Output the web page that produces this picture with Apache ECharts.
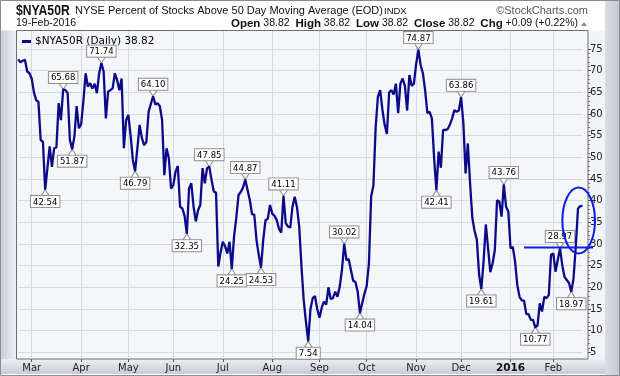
<!DOCTYPE html>
<html>
<head>
<meta charset="utf-8">
<script src="https://cdn.jsdelivr.net/npm/echarts@6/dist/echarts.min.js"></script>
<style>
html,body{margin:0;padding:0;background:#fff;}
#c{width:620px;height:376px;}
</style>
</head>
<body>
<div id="c"></div>
<script>
// ---------------- DATA ----------------
var startDate = '2015-02-20';
var endDate = '2016-02-19';
var holidays = ['2015-04-03','2015-05-25','2015-07-03','2015-09-07','2015-11-26','2015-12-25','2016-01-01','2016-01-18','2016-02-15'];
var monthNames = ['Jan','Feb','Mar','Apr','May','Jun','Jul','Aug','Sep','Oct','Nov','Dec'];

var pctAbove50 = [
72.6,71.9,72.3,72.5,69.8,69.4,68.2,65.0,63.2,62.8,
54.0,53.6,42.54,47.5,52.5,47.8,52.1,52.3,62.5,58.6,
65.68,65.5,64.8,54.0,51.87,54.8,61.8,56.7,57.6,63.0,
69.4,66.3,67.1,65.9,67.0,64.8,69.4,71.74,69.8,59.0,
65.2,65.5,65.9,69.4,67.8,65.5,68.2,52.1,58.6,59.8,
55.0,49.4,46.79,52.0,57.5,54.5,52.8,53.5,60.5,62.3,
64.10,62.2,62.5,61.8,58.6,45.9,52.1,49.8,42.8,43.6,
46.7,48.0,38.6,38.2,36.5,32.35,42.8,44.0,38.6,35.2,
37.8,39.0,47.5,44.0,47.5,47.85,44.8,42.1,41.8,24.8,
28.0,30.5,29.5,27.8,30.5,24.25,31.7,36.0,41.3,42.0,
43.0,44.87,42.5,40.2,36.9,36.8,30.9,27.5,24.53,31.0,
35.5,35.8,39.0,37.0,36.5,35.5,33.5,32.6,41.11,34.8,
34.0,33.8,38.6,40.9,38.5,34.0,24.8,17.0,12.0,7.54,
15.0,17.5,18.0,15.0,13.0,15.3,16.7,16.0,20.0,17.3,
17.5,19.0,17.8,20.1,24.0,30.02,26.3,26.5,24.0,21.5,
21.2,19.0,14.04,16.3,18.5,20.3,25.5,41.0,43.5,57.0,
64.0,65.5,61.0,57.5,55.4,65.0,65.5,64.5,67.0,60.2,
67.0,68.2,66.5,60.8,69.0,66.5,67.0,71.5,74.87,71.3,
69.4,65.5,60.2,60.5,59.0,49.8,42.41,51.3,47.6,56.3,
56.3,56.5,57.5,59.0,60.9,60.5,60.8,63.86,58.0,46.3,
53.2,44.0,36.0,33.0,31.0,23.0,19.61,26.0,34.5,29.0,
23.5,25.5,28.6,40.1,39.8,36.3,43.76,38.6,37.5,29.0,
29.3,26.0,20.5,17.8,17.0,16.9,13.8,13.8,12.5,12.5,
10.77,11.2,16.3,14.4,17.8,17.5,18.2,27.5,27.8,23.6,
26.3,28.97,25.1,22.4,21.7,21.0,18.97,22.0,29.4,38.2,
38.73,38.82
];

// indices of points carrying a value callout
var calloutIdx = [12,20,24,37,52,60,75,85,95,101,108,118,129,145,152,178,186,197,206,216,230,241,246];

var yTicks = {min:5, max:75, step:5};

// annotation drawn by the analyst
var annotLevel = 29.2;          // horizontal line level
var annotLineFrom = 225;        // start index of that line
var annotEllipse = {idx:249.3, value:35.4};

// ---------------- build categories ----------------
function fmt(d){var m=d.getUTCMonth()+1,dd=d.getUTCDate();return d.getUTCFullYear()+'-'+(m<10?'0':'')+m+'-'+(dd<10?'0':'')+dd;}
var categories=[];
(function(){
  var d=new Date(startDate+'T00:00:00Z'), e=new Date(endDate+'T00:00:00Z');
  while(d<=e){
    var wd=d.getUTCDay(), s=fmt(d);
    if(wd!==0&&wd!==6&&holidays.indexOf(s)<0) categories.push(s);
    d=new Date(d.getTime()+86400000);
  }
})();
var monthStart={};
for(var i=1;i<categories.length;i++){
  if(categories[i].slice(5,7)!==categories[i-1].slice(5,7)){
    var mo=+categories[i].slice(5,7);
    monthStart[i]= mo===1 ? categories[i].slice(0,4) : monthNames[mo-1];
  }
}

var N = pctAbove50.length;
var last = pctAbove50[N-1];
var seriesName = '$NYA50R (Daily) ' + last.toFixed(2);

var navy = '#0b0b8a';
var font = 'DejaVu Sans';

// callouts
var mpData = calloutIdx.map(function(i){
  var v=pctAbove50[i], peak=true;
  for(var k=i-2;k<=i+2;k++){ if(k!==i && k>=0 && k<N && pctAbove50[k]>v) peak=false; }
  return {
    coord:[i, v], value:v,
    symbol: peak ? 'path://M0,0 L10,0 L5,8 Z' : 'path://M5,0 L10,8 L0,8 Z',
    symbolSize:[9,7],
    symbolOffset:[0, peak ? -3.5 : 3.5],
    label:{position: peak ? 'top' : 'bottom', distance:-1}
  };
});

var chart = echarts.init(document.getElementById('c'), null, {renderer:'canvas'});

var GL = 18.2, GR = 620-582.5;
var option = {
  animation:false,
  backgroundColor:'transparent',
  textStyle:{fontFamily:font},
  legend:{
    show:true, left:17, top:31, itemWidth:9, itemHeight:3, icon:'rect', itemGap:4,
    data:[seriesName],
    textStyle:{fontFamily:font, fontSize:10.5, color:'#000', padding:[0,0,0,-1]},
    itemStyle:{color:navy}
  },
  grid:[
    {left:GL, right:GR, top:49, bottom:376-352.3, containLabel:false},
    {left:GL, right:GR, top:31, bottom:17, containLabel:false}
  ],
  xAxis:[
    {gridIndex:0, type:'category', data:categories.concat(), boundaryGap:false,
     axisLine:{show:false}, axisTick:{show:false}, axisLabel:{show:false}, splitLine:{show:false}},
    {gridIndex:1, type:'category', data:categories.concat(), boundaryGap:false,
     axisLine:{show:false},
     axisTick:{show:true, length:3, inside:false, interval:function(i){return monthStart[i]!==undefined;}, lineStyle:{color:'#555'}},
     axisLabel:{show:true, interval:function(i){return monthStart[i]!==undefined;}, margin:4,
       formatter:function(v,i){var t=monthStart[i]; if(!t) return ''; return /^\d{4}$/.test(t)?'{b|'+t+'}':t;},
       color:'#222', fontFamily:font, fontSize:10,
       rich:{b:{fontWeight:'bold', fontFamily:font, fontSize:10.5, color:'#111'}}},
     splitLine:{show:true, interval:function(i){return monthStart[i]!==undefined;}, lineStyle:{color:'#d6d9e0', width:1}}}
  ],
  yAxis:[
    {gridIndex:0, type:'value', position:'right', offset:588-582.5, min:yTicks.min, max:yTicks.max, interval:yTicks.step,
     axisLine:{show:false},
     axisTick:{show:true, length:3, lineStyle:{color:'#555'}},
     minorTick:{show:true, splitNumber:5, length:2, lineStyle:{color:'#777'}},
     axisLabel:{show:true, margin:2, color:'#222', fontFamily:font, fontSize:10, showMinLabel:true, showMaxLabel:true},
     splitLine:{show:true, lineStyle:{color:'#d6d9e0', width:1}}},
    {gridIndex:1, type:'value', min:0, max:1, show:false, splitLine:{show:false}}
  ],
  series:[
    {name:seriesName, type:'line', xAxisIndex:0, yAxisIndex:0, data:pctAbove50,
     showSymbol:false, symbol:'none', smooth:false,
     lineStyle:{color:navy, width:2.3}, itemStyle:{color:navy}, z:5,
     markPoint:{
       silent:true, animation:false,
       itemStyle:{color:'#fff', borderColor:'#8e8e8e', borderWidth:1},
       label:{show:true, formatter:function(p){return p.value.toFixed(2);},
         color:'#000', fontFamily:'DejaVu Sans Condensed', fontSize:9.5, lineHeight:10,
         backgroundColor:'#fff', borderColor:'#8e8e8e', borderWidth:1, padding:[1,2,0,2]},
       data:mpData
     }
    }
  ]
};
chart.setOption(option);

// ---------- frame & annotations ----------
var p0 = chart.convertToPixel({xAxisIndex:0, yAxisIndex:0}, [0, yTicks.min]);
var p1 = chart.convertToPixel({xAxisIndex:0, yAxisIndex:0}, [N-1, yTicks.max]);
function px(i){ return p0[0] + (p1[0]-p0[0])*i/(N-1); }
function py(v){ return p0[1] + (p1[1]-p0[1])*(v-yTicks.min)/(yTicks.max-yTicks.min); }

var plotL=16.5, plotT=30.5, plotR=588, plotB=359;
var graphics = [
  {type:'rect', z:-30, silent:true, shape:{x:0.5,y:0.5,width:619,height:375}, style:{fill:'#ffffff', stroke:'#8c8c8c', lineWidth:1}},
  {type:'rect', z:-29, silent:true, shape:{x:1,y:plotT,width:plotL-1,height:374-plotT},
    style:{fill:new echarts.graphic.LinearGradient(0,0,1,0,[{offset:0,color:'#c9ceda'},{offset:1,color:'#eef0f5'}])}},
  {type:'rect', z:-29, silent:true, shape:{x:1,y:plotB,width:604,height:15},
    style:{fill:new echarts.graphic.LinearGradient(0,0,0,1,[{offset:0,color:'#eceef3'},{offset:1,color:'#c6ccd8'}])}},
  {type:'rect', z:-29, silent:true, shape:{x:plotR,y:plotT,width:605-plotR,height:plotB-plotT}, style:{fill:'#f3f4f8'}},
  {type:'rect', z:-28, silent:true, shape:{x:plotL,y:plotT,width:plotR-plotL,height:plotB-plotT}, style:{fill:'#f5f6fa', stroke:'#6e6e6e', lineWidth:1}},
  {type:'rect', z:-29, silent:true, shape:{x:605,y:1,width:14,height:374},
    style:{fill:new echarts.graphic.LinearGradient(0,0,1,0,[{offset:0,color:'#d9dde5'},{offset:1,color:'#c3c8d3'}])}},
  // header
  {type:'text', silent:true, x:16, y:18, scaleX:0.84, style:{x:0, y:0, text:'$NYA50R', font:'bold 14.5px "Liberation Sans"', fill:'#111', textVerticalAlign:'bottom'}},
  {type:'text', silent:true, style:{x:75, y:16.5, text:'NYSE Percent of Stocks Above 50 Day Moving Average (EOD)', font:'11px "Liberation Sans"', fill:'#111', textVerticalAlign:'bottom'}},
  {type:'text', silent:true, style:{x:384, y:16.5, text:'INDX', font:'9.5px "Liberation Sans"', fill:'#111', textVerticalAlign:'bottom'}},
  {type:'text', silent:true, style:{x:588, y:16.5, text:'\u00a9StockCharts.com', font:'11px "Liberation Sans"', fill:'#555', textAlign:'right', textVerticalAlign:'bottom'}},
  {type:'text', silent:true, style:{x:16, y:29, text:'19-Feb-2016', font:'10.5px "Liberation Sans"', fill:'#111', textVerticalAlign:'bottom'}},
  {type:'text', silent:true, style:{x:578, y:29.5, textAlign:'right', textVerticalAlign:'bottom',
    text:'{b|Open} 38.82  {b|High} 38.82  {b|Low} 38.82  {b|Close} 38.82  {b|Chg} +0.09 (+0.22%)',
    font:'10.5px "Liberation Sans"', fill:'#111',
    rich:{b:{font:'bold 11.5px "Liberation Sans"', fill:'#111'}}}},
  {type:'polygon', silent:true, shape:{points:[[581,26],[587,26],[584,22]]}, style:{fill:'#888'}},
  // annotations
  {type:'line', z:20, silent:true, shape:{x1:px(annotLineFrom), y1:py(annotLevel), x2:593, y2:py(annotLevel)}, style:{stroke:'#0a1fe0', lineWidth:2}},
  {type:'ellipse', z:20, silent:true, shape:{cx:px(annotEllipse.idx), cy:py(annotEllipse.value), rx:16.3, ry:33}, style:{fill:null, stroke:'#0a1fe0', lineWidth:2}}
];
chart.setOption({graphic:graphics});
</script>
</body>
</html>
